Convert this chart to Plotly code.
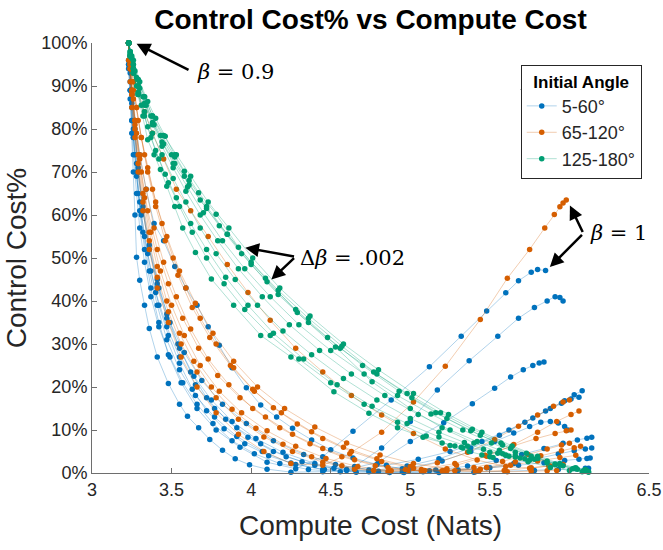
import plotly.graph_objects as go

# ---------------- data ----------------
group_names = ["5-60°", "65-120°", "125-180°"]

blue_x = [
    [3.23,3.23,3.24,3.25,3.26,3.28,3.30,3.33,3.37,3.42,3.48,3.56,3.66,3.78,3.93,4.10,4.28,4.45,4.64,4.88,5.12,5.32,5.48,5.60,5.68,5.76,5.80,5.85],
    [3.23,3.23,3.24,3.25,3.27,3.29,3.32,3.36,3.41,3.47,3.55,3.65,3.77,3.91,4.07,4.25,4.45,4.65,4.82,5.00,5.17,5.37,5.55,5.68,5.78,5.86,5.91,5.94,5.96],
    [3.23,3.24,3.25,3.27,3.29,3.32,3.36,3.41,3.47,3.55,3.64,3.75,3.88,4.03,4.20,4.40,4.60,4.80,5.00,5.21,5.39,5.53,5.63,5.71,5.77,5.81,5.84],
    [3.23,3.23,3.24,3.25,3.26,3.27,3.28,3.30,3.33,3.36,3.41,3.48,3.55,3.60,3.67,3.74,3.82,3.90,3.99,4.10,4.25,4.45,4.65,4.85,5.05,5.25,5.45,5.62,5.77,5.88,5.97,6.03,6.08],
    [3.23,3.23,3.24,3.25,3.26,3.28,3.30,3.33,3.37,3.42,3.49,3.57,3.66,3.76,3.88,4.02,4.18,4.36,4.56,4.77,4.98,5.18,5.38,5.56,5.72,5.85,5.95,6.01,6.06],
    [3.23,3.24,3.25,3.26,3.28,3.31,3.35,3.40,3.47,3.55,3.65,3.77,3.91,4.06,4.22,4.40,4.60,4.80,5.00,5.20,5.38,5.53,5.65,5.75,5.82,5.88,5.93,5.97,5.99],
    [3.23,3.24,3.25,3.27,3.29,3.32,3.36,3.42,3.49,3.58,3.69,3.82,3.97,4.14,4.33,4.53,4.74,4.95,5.16,5.36,5.54,5.70,5.84,5.96,6.05,6.11,6.14],
    [3.23,3.24,3.25,3.27,3.30,3.34,3.39,3.45,3.52,3.59,3.66,3.73,3.80,3.88,3.97,4.06,4.16,4.26,4.38,4.50,4.64,4.79,4.95,5.12,5.30,5.48,5.65,5.80,5.93,6.03,6.10,6.14],
    [3.23,3.24,3.25,3.26,3.28,3.30,3.33,3.37,3.42,3.48,3.55,3.63,3.72,3.83,3.96,4.11,4.28,4.46,4.66,4.87,5.08,5.30,5.50,5.68,5.84,5.97,6.06,6.11,6.13],
    [3.23,3.24,3.25,3.27,3.29,3.32,3.36,3.41,3.47,3.54,3.62,3.72,3.84,3.98,4.14,4.32,4.52,4.74,4.96,5.18,5.40,5.60,5.78,5.93,6.04,6.10,6.12],
]
blue_y = [
    [100,96,91,85,78,70,61,52,43,35,27.5,21,15,10,6,2.5,1.0,3.8,9.7,17,24.7,31.8,37.7,41.9,44.7,46.7,47.3,47.1],
    [100,95,89,82,74,65,56,47,39,31,24,18,13,8.5,5,2.3,0.8,1.5,5.8,12,19.3,26.1,31.8,36,38.5,40,41,40.8,40],
    [100,94,87,79,70,61,52,44,36,29,22.5,17,12,8,4.8,2.2,0.8,2.5,7.3,11.7,16.1,19.7,22.3,24,25,25.6,25.8],
    [100,94,87,79,70,60,50.2,44.8,39,33.6,27,20.8,16,13.2,10.5,7.8,5.3,3.3,1.9,0.9,0.2,0.3,0.8,1.8,3.2,5,7.3,10,12.8,15,16.8,18.2,19.1],
    [100,95,89,82,74,65,57,49,41,34,27,21,16,11.5,7.5,4.5,2.2,0.8,0.3,0.6,1.6,3.3,5.8,8.8,11.8,14.4,16.2,17.2,17.6],
    [100,93,86,78,69,60,51,42,34,27,20.5,15,10.5,6.8,3.8,1.8,0.6,0.4,1.2,2.8,5,7.3,9.3,10.8,11.8,12,11.6,10.8,10],
    [100,94,87,79,70,61,52,43,35,28,21.5,16,11.5,7.5,4.3,2,0.7,0.3,0.7,1.6,2.9,4.3,5.7,6.9,7.7,8.1,8.3],
    [100,95,89,82,74,66,58,54,48,43,39,34,29.7,24.5,19.8,15.8,13,10.4,7.7,5.4,3.5,2,1,0.5,0.6,1.2,2.2,3.3,4.4,5.2,5.6,5.8],
    [100,94,88,80,72,63,55,47,39,32,25.5,19.5,14.5,10.3,6.8,4,2,0.8,0.2,0.1,0.3,0.7,1.2,1.8,2.4,2.9,3.2,3.4,3.5],
    [100,95,88,80,71,62,53,45,37,30,23.5,17.5,12.5,8.3,5,2.6,1.1,0.3,0.1,0.1,0.2,0.4,0.6,0.8,1.0,1.1,1.1],
]

orange_x = [
    [3.23,3.23,3.24,3.25,3.27,3.29,3.32,3.36,3.41,3.48,3.56,3.66,3.78,3.92,4.08,4.25,4.45,4.62,4.82,5.02,5.22,5.44,5.61,5.75,5.845,5.905,5.94,5.96,5.98],
    [3.23,3.24,3.25,3.27,3.29,3.32,3.36,3.41,3.47,3.55,3.64,3.75,3.88,4.03,4.20,4.38,4.57,4.77,4.97,5.17,5.36,5.53,5.68,5.80,5.90,5.96,6.00],
    [3.23,3.24,3.25,3.27,3.30,3.33,3.37,3.43,3.50,3.58,3.68,3.80,3.94,4.10,4.28,4.47,4.67,4.88,5.09,5.29,5.48,5.65,5.80,5.92,6.01,6.06],
    [3.23,3.24,3.25,3.27,3.30,3.34,3.39,3.45,3.53,3.62,3.73,3.86,4.01,4.18,4.37,4.57,4.78,4.99,5.20,5.40,5.58,5.74,5.86,5.95,6.00],
    [3.23,3.24,3.26,3.28,3.31,3.35,3.41,3.48,3.57,3.67,3.79,3.93,4.09,4.26,4.45,4.65,4.86,5.07,5.28,5.48,5.66,5.82,5.95,6.03,6.07],
    [3.23,3.24,3.26,3.29,3.33,3.38,3.44,3.51,3.59,3.68,3.78,3.89,4.01,4.14,4.29,4.45,4.63,4.82,5.02,5.23,5.44,5.63,5.80,5.94,6.04],
    [3.23,3.24,3.26,3.29,3.33,3.38,3.45,3.53,3.62,3.73,3.85,3.98,4.12,4.28,4.45,4.63,4.82,5.02,5.22,5.42,5.60,5.76,5.88,5.96],
    [3.23,3.24,3.26,3.28,3.31,3.35,3.40,3.46,3.54,3.63,3.74,3.87,4.02,4.19,4.38,4.58,4.79,5.00,5.21,5.41,5.59,5.75,5.87,5.94],
    [3.23,3.24,3.25,3.27,3.29,3.32,3.36,3.41,3.48,3.56,3.66,3.78,3.92,4.08,4.26,4.45,4.65,4.86,5.07,5.28,5.47,5.64,5.79,5.91,5.98,6.01],
    [3.23,3.24,3.26,3.28,3.31,3.35,3.40,3.47,3.55,3.65,3.76,3.89,4.04,4.21,4.40,4.60,4.81,5.02,5.23,5.43,5.61,5.76,5.86,5.92],
]
orange_y = [
    [100,96,91,85,78,70,61,52,43,35,27,20,14,9,5,2.2,1.8,4.5,9.5,16.5,24.8,35.7,45.3,52,57,60.1,61.9,62.8,63.5],
    [100,95,89,82,74,65,56,48,40,32.5,26,20,14.8,10.4,6.7,3.8,1.7,0.6,0.8,2.4,4.8,7.8,10.9,13.5,15.5,16.5,17],
    [100,94,88,81,73,64,56,47,39,32,25,19,14,9.8,6.2,3.4,1.5,0.5,0.6,1.8,3.9,6.6,9.5,12,13.6,14.4],
    [100,95,89,82,74,66,57,49,41,33.5,26.5,20.5,15,10.5,6.8,3.8,1.7,0.6,0.5,1.3,2.7,4.3,5.6,6.5,6.9],
    [100,94,87,79,70,61,52,44,36,29,22.7,17.5,13,9,5.7,3.1,1.3,0.4,0.5,1.3,2.6,4,5.2,5.9,6.2],
    [100,95,89,82,74,66,58,50,43,36,30,24.5,19.5,15.2,11.4,8,5,2.7,1.1,0.5,0.9,1.8,2.8,3.6,4.1],
    [100,97,93,88.5,84,79,73,66,61,55,48.5,42,35.5,29,23.5,18,13.5,9.2,5.6,3,1.5,1.2,1.6,2],
    [100,96,91,85,78,70,62,54,46,38.5,31.5,25,19,14,9.6,6,3.3,1.5,0.5,0.3,0.6,1.1,1.6,2.0],
    [100,94,88,80,72,63,54,45.5,37.5,30,23.5,17.5,12.5,8.4,5,2.5,0.9,0.3,0.8,2.2,4.1,6.2,8,9.2,9.8,10],
    [100,96,91,85,78,71,63,55,47,39.5,32.5,26,20,15,10.7,7,4.2,2.2,1,0.4,0.3,0.4,0.5,0.6],
]

green_x = [
    [3.23,3.24,3.26,3.29,3.32,3.35,3.39,3.43,3.47,3.52,3.57,3.65,3.75,3.89,4.06,4.25,4.52,4.74,4.92,5.08,5.20,5.28,5.32,5.33],
    [3.23,3.24,3.26,3.29,3.33,3.37,3.42,3.48,3.55,3.63,3.72,3.83,3.96,4.12,4.30,4.50,4.71,4.92,5.10,5.25,5.37,5.45,5.50,5.52],
    [3.23,3.24,3.26,3.29,3.33,3.38,3.44,3.51,3.59,3.68,3.78,3.90,4.04,4.20,4.38,4.58,4.79,5.00,5.18,5.34,5.46,5.55,5.60,5.62],
    [3.23,3.24,3.26,3.29,3.33,3.38,3.44,3.51,3.59,3.68,3.79,3.92,4.07,4.24,4.43,4.63,4.84,5.05,5.25,5.42,5.56,5.66,5.72,5.75],
    [3.23,3.24,3.26,3.29,3.33,3.38,3.44,3.51,3.60,3.70,3.82,3.96,4.12,4.30,4.50,4.71,4.92,5.13,5.33,5.51,5.66,5.78,5.86,5.91],
    [3.23,3.24,3.26,3.29,3.33,3.38,3.44,3.52,3.61,3.72,3.85,4.00,4.17,4.36,4.56,4.77,4.98,5.19,5.39,5.57,5.73,5.86,5.96,6.03],
    [3.23,3.24,3.26,3.29,3.33,3.38,3.45,3.53,3.62,3.73,3.86,4.01,4.18,4.37,4.58,4.80,5.02,5.24,5.45,5.64,5.80,5.94,6.04,6.10],
    [3.23,3.25,3.27,3.30,3.34,3.39,3.45,3.52,3.61,3.72,3.85,4.00,4.17,4.36,4.57,4.79,5.01,5.23,5.44,5.63,5.80,5.94,6.05,6.11],
    [3.23,3.26,3.30,3.35,3.40,3.46,3.52,3.58,3.67,3.78,3.92,4.09,4.29,4.53,4.76,5.00,5.20,5.40,5.58,5.74,5.88,6.00,6.08,6.12],
    [3.23,3.25,3.28,3.32,3.37,3.43,3.50,3.58,3.68,3.80,3.94,4.10,4.28,4.48,4.70,4.93,5.16,5.38,5.58,5.76,5.91,6.02,6.09,6.12],
    [3.23,3.24,3.26,3.28,3.31,3.35,3.40,3.46,3.53,3.62,3.72,3.84,3.98,4.14,4.33,4.54,4.76,4.98,5.18,5.36,5.50,5.60,5.66,5.69],
]
green_y = [
    [100,97,93,88,83,77.5,74,70.6,66.7,62,57,51.3,45.1,39,32,27,18.9,13.9,10.5,8.3,7,6.3,6,5.8],
    [100,97,93,88,83,78,73,67.5,62,56,50,44,38,32,26.5,21,16,11.8,8.6,6.4,5,4.2,3.8,3.6],
    [100,97,93,88.5,84,79,74,68.5,63,57,51,45,39,33,27.5,22,17,12.7,9.5,7.1,5.5,4.6,4.1,3.9],
    [100,97.5,94,90,85.5,81,76,71,65.5,60,54,47.5,41,34.5,28.5,23,18,13.6,10,7.3,5.3,4,3.3,3],
    [100,97.5,94,90,86,81.5,77,72,66.5,60.5,54,47.5,41,34.5,28.5,23,18,13.7,10,7,4.8,3.2,2.3,1.9],
    [100,98,95,91.5,87.5,83,78.5,73.5,68,62,55.5,48.5,41.5,35,29,23.5,18.5,14,10.2,7,4.6,2.8,1.7,1.1],
    [100,98,95,91.5,87.5,83,78.5,74,69,63,57,50,43,36.5,30,24,18.5,13.6,9.5,6.3,3.9,2.2,1.2,0.8],
    [100,97,93.5,89.5,85.5,81,76.5,72,67,61.5,55.5,49,42.5,36,29.5,23,17.5,12.7,8.8,5.7,3.4,1.8,0.9,0.5],
    [100,96,91,86.4,82.5,78.3,74,70.2,65.2,60.2,52.5,45.3,37.3,29.3,21.2,15,10.5,7,4.5,2.6,1.3,0.6,0.3,0.2],
    [100,96.5,92,87.5,83,78.5,74,69,63.5,57.5,51,44.5,38,31.5,25,19,14,9.8,6.5,3.9,2.1,1,0.5,0.3],
    [100,97,94,90,85.5,80.5,75,69.5,64,58,52,45.5,39,32.5,26.5,20.5,15.5,11.5,8.4,6.2,4.8,4.1,3.7,3.5],
]

x_tick_vals = [3, 3.5, 4, 4.5, 5, 5.5, 6, 6.5]
x_tick_text = ["3", "3.5", "4", "4.5", "5", "5.5", "6", "6.5"]
y_tick_vals = [0, 10, 20, 30, 40, 50, 60, 70, 80, 90, 100]
y_tick_text = [f"{v}%" for v in y_tick_vals]

# ---------------- styling ----------------
FONT = "Liberation Sans, Arial, Helvetica, sans-serif"
MATH = "DejaVu Serif, Liberation Serif, serif"
marker_cols = ["#0072BD", "#D55E00", "#009E73"]
line_cols = ["rgba(0,114,189,0.35)", "rgba(213,94,0,0.35)", "rgba(0,158,115,0.35)"]
AX = "#6e6e6e"
TXT = "#262626"

fig = go.Figure()
groups = [(blue_x, blue_y), (orange_x, orange_y), (green_x, green_y)]
for gi, (gx, gy) in enumerate(groups):
    for ci, (xs, ys) in enumerate(zip(gx, gy)):
        n = min(len(xs), len(ys))
        fig.add_trace(go.Scatter(
            x=xs[:n], y=ys[:n], mode="lines+markers",
            name=group_names[gi], legendgroup=group_names[gi],
            showlegend=(ci == 0),
            line=dict(color=line_cols[gi], width=0.9),
            marker=dict(color=marker_cols[gi], size=5.5, line=dict(width=0)),
            cliponaxis=False,
        ))

arrow = dict(showarrow=True, arrowhead=2, arrowsize=1.1, arrowwidth=2.5,
             arrowcolor="black", axref="x", ayref="y", text="", standoff=0,
             startstandoff=0)
annotations = [
    dict(x=3.28, y=99.8, ax=3.616, ay=93.6, **arrow),
    dict(x=3.963, y=52.4, ax=4.279, ay=50.3, **arrow),
    dict(x=4.127, y=45.0, ax=4.279, ay=50.3, **arrow),
    dict(x=6.003, y=62.2, ax=6.088, ay=55.7, **arrow),
    dict(x=5.877, y=47.9, ax=6.088, ay=55.7, **arrow),
    dict(x=3.90, y=93.3, text="<i>β</i> = 0.9", showarrow=False,
         xanchor="center", yanchor="middle", font=dict(family=MATH, size=21, color="black")),
    dict(x=4.638, y=50.0, text="Δ<i>β</i> = .002", showarrow=False,
         xanchor="center", yanchor="middle", font=dict(family=MATH, size=21, color="black")),
    dict(x=6.31, y=55.7, text="<i>β</i> = 1", showarrow=False,
         xanchor="center", yanchor="middle", font=dict(family=MATH, size=21, color="black")),
]

fig.update_layout(
    width=663, height=550,
    margin=dict(l=92, r=14, t=43, b=77, autoexpand=False),
    paper_bgcolor="white", plot_bgcolor="white",
    font=dict(family=FONT, color=TXT),
    title=dict(text="<b>Control Cost% vs Compute Cost</b>", x=0.5, xref="paper",
               xanchor="center", y=1 - 19 / 550, yref="container", yanchor="middle",
               font=dict(family=FONT, size=28, color="black")),
    xaxis=dict(range=[3, 6.5], tickvals=x_tick_vals, ticktext=x_tick_text,
               ticks="inside", ticklen=5, tickwidth=1, tickcolor=AX,
               showline=True, linecolor=AX, linewidth=1, showgrid=False, zeroline=False,
               tickfont=dict(family=FONT, size=18, color=TXT),
               title=dict(text="Compute Cost (Nats)", standoff=16,
                          font=dict(family=FONT, size=28, color=TXT))),
    yaxis=dict(range=[0, 100], tickvals=y_tick_vals, ticktext=y_tick_text,
               ticks="inside", ticklen=5, tickwidth=1, tickcolor=AX,
               showline=True, linecolor=AX, linewidth=1, showgrid=False, zeroline=False,
               tickfont=dict(family=FONT, size=18, color=TXT),
               title=dict(text="Control Cost%", standoff=6,
                          font=dict(family=FONT, size=28, color=TXT))),
    legend=dict(x=0.7697, y=0.9498, xanchor="left", yanchor="top",
                bgcolor="white", bordercolor=TXT, borderwidth=1,
                font=dict(family=FONT, size=18, color=TXT),
                title=dict(text="<b>Initial Angle</b>", side="top center",
                           font=dict(family=FONT, size=17, color="black")),
                itemwidth=30, tracegroupgap=0),
    annotations=annotations,
    shapes=[dict(type="line", xref="paper", yref="paper",
                 x0=0.7697, x1=0.982, y0=0.8918, y1=0.8918,
                 line=dict(color=TXT, width=1))],
)

fig.write_html("out.html")
